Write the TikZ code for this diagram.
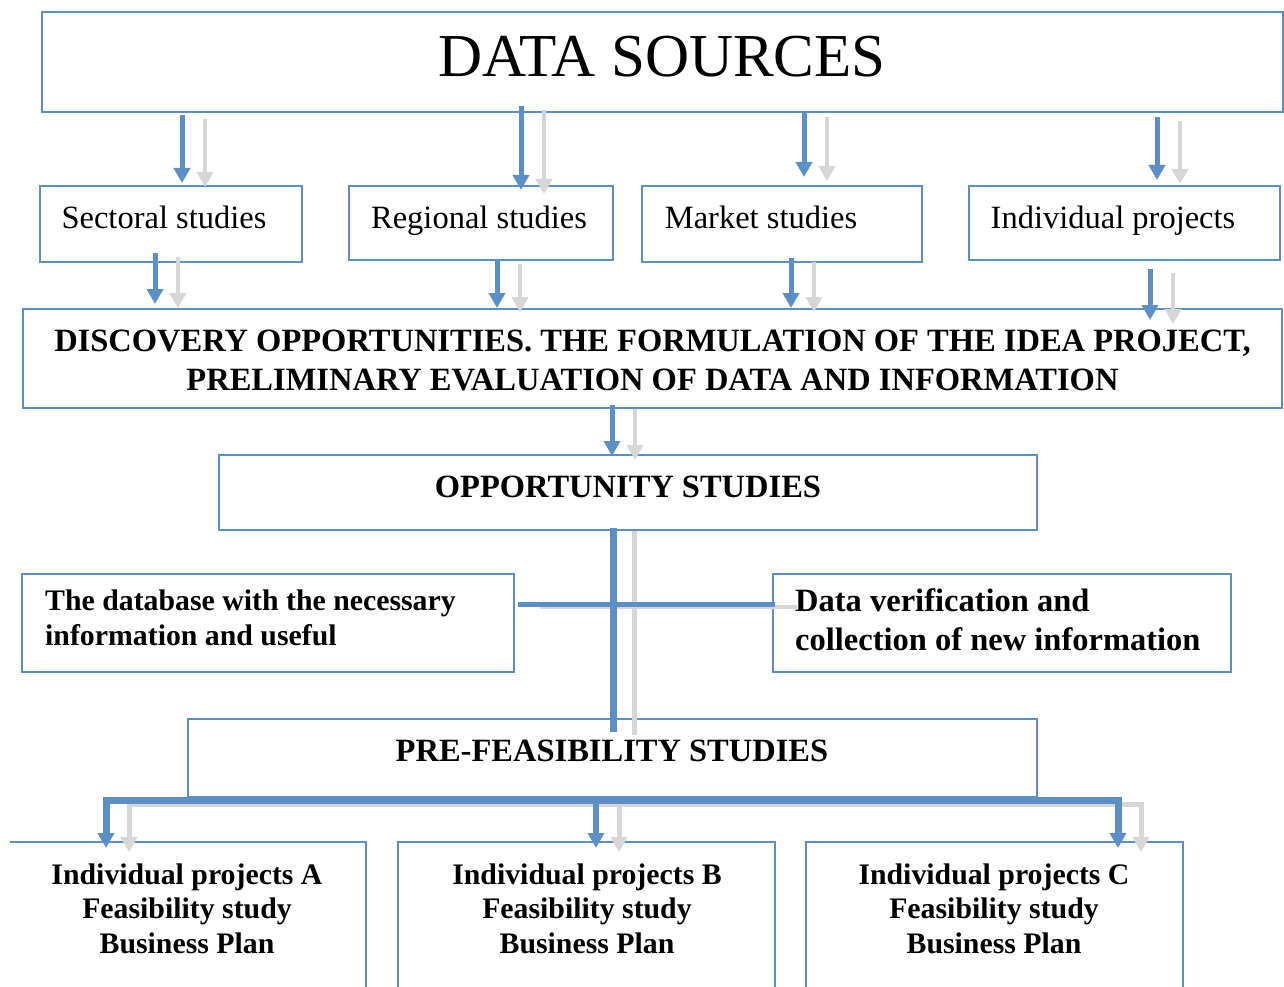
\documentclass[tikz,border=0pt]{standalone}
\usepackage{fontspec}
\setmainfont{Liberation Serif}
\usetikzlibrary{arrows.meta,calc}
\definecolor{flowblue}{RGB}{91,143,199}
\definecolor{flowshade}{RGB}{214,214,214}

% one blue arrow with its grey shadow, from the bottom of #2 to the top of #3 at x=#1
\newcommand\pairdrop[5]{%
  \draw[shadeln=4pt,tip] ($(#1,0 |- #2.south)+(23,#4+4)$) -- ($(#1,0 |- #3.north)+(23,#5+4)$);
  \draw[blueln=5pt,tip] ($(#1,0 |- #2.south)+(0,#4)$) -- ($(#1,0 |- #3.north)+(0,#5)$);
}

\begin{document}
\begin{tikzpicture}[x=1pt,y=-1pt,
  box/.style={draw=flowblue,line width=1.6pt,inner sep=0pt,outer sep=0pt},
  frame/.style={inner sep=0pt,outer sep=0pt},
  edge/.style={draw=flowblue,line width=1.6pt},
  txt/.style={inner sep=0pt,anchor=base,font=\fontsize{32.5}{39}\selectfont},
  btxt/.style={inner sep=0pt,anchor=base,font=\fontsize{32.5}{39}\selectfont\bfseries},
  stxt/.style={inner sep=0pt,anchor=base,font=\fontsize{29.8}{34.5}\selectfont\bfseries},
  tip/.style={-{Triangle[length=15pt,width=16pt]}},
  twotips/.style={{Triangle[length=15pt,width=16pt]}-{Triangle[length=15pt,width=16pt]}},
  blueln/.style={draw=flowblue,line width=#1},
  shadeln/.style={draw=flowshade,line width=#1},
]
\useasboundingbox (0,0) rectangle (1284,987);

% boxes
\node[box,minimum width=1241pt,minimum height=100pt] (ds) at (662.5,62) {};
\node[box,minimum width=262pt,minimum height=76pt] (sec) at (171,224) {};
\node[box,minimum width=264pt,minimum height=74pt] (reg) at (481,223) {};
\node[box,minimum width=280pt,minimum height=76pt] (mkt) at (782,224) {};
\node[box,minimum width=311pt,minimum height=74pt] (ind) at (1124.5,223) {};
\node[box,minimum width=1259pt,minimum height=99pt] (disc) at (652.5,358.5) {};
\node[box,minimum width=818pt,minimum height=75pt] (opp) at (628,492.5) {};
\node[box,minimum width=492pt,minimum height=98pt] (dbx) at (268,623) {};
\node[box,minimum width=458pt,minimum height=98pt] (ver) at (1002,623) {};
\node[box,minimum width=849pt,minimum height=78pt] (pre) at (612.5,758) {};

% project boxes running off the bottom edge
\node[frame,minimum width=356pt,minimum height=145pt] (pa) at (188,914.5) {};
\node[frame,minimum width=377pt,minimum height=145pt] (pb) at (586.5,914.5) {};
\node[frame,minimum width=377pt,minimum height=145pt] (pc) at (994.5,914.5) {};
\draw[edge] (pa.north west) -- (pa.north east) -- (pa.south east);
\draw[edge] (pb.south west) -- (pb.north west) -- (pb.north east) -- (pb.south east);
\draw[edge] (pc.south west) -- (pc.north west) -- (pc.north east) -- (pc.south east);

% texts (multi-line nodes sit on the baseline of their last line)
\node[txt,font=\fontsize{61}{72}\selectfont] (tds) at (662,77) {DATA SOURCES};
\node[txt] (tsec) at (164,228) {Sectoral studies};
\node[txt] (treg) at (479,228) {Regional studies};
\node[txt] (tmkt) at (761,228) {Market studies};
\node[txt] (tind) at (1113,228) {Individual projects};
\node[btxt,align=center] (tdisc) at (652.5,390)
  {DISCOVERY OPPORTUNITIES. THE FORMULATION OF THE IDEA PROJECT,\\
   PRELIMINARY EVALUATION OF DATA AND INFORMATION};
\node[btxt] (topp) at (628,497) {OPPORTUNITY STUDIES};
\node[stxt,align=left,anchor=base west,font=\fontsize{29.8}{35}\selectfont\bfseries] (tdb) at (45,645)
  {The database with the necessary\\information and useful};
\node[btxt,align=left,anchor=base west] (tver) at (795,650)
  {Data verification and\\collection of new information};
\node[btxt] (tpre) at (612,761) {PRE-FEASIBILITY STUDIES};
\node[stxt,align=center] (ta) at (187,953) {Individual projects A\\Feasibility study\\Business Plan};
\node[stxt,align=center] (tb) at (587,953) {Individual projects B\\Feasibility study\\Business Plan};
\node[stxt,align=center] (tc) at (994,953) {Individual projects C\\Feasibility study\\Business Plan};

% arrows from the data sources to the four kinds of study
\pairdrop{182}{ds}{sec}{3}{-3}
\pairdrop{521}{ds}{reg}{-6}{4}
\pairdrop{804}{ds}{mkt}{1}{-9}
\pairdrop{1157}{ds}{ind}{5}{-6}

% arrows into the discovery box
\pairdrop{155}{sec}{disc}{-9}{-5}
\pairdrop{497}{reg}{disc}{0}{-1}
\pairdrop{791}{mkt}{disc}{-4}{-1}
\pairdrop{1150}{ind}{disc}{9}{11}

% discovery to opportunity studies
\pairdrop{612}{disc}{opp}{-3}{1}

% cross between opportunity and pre-feasibility studies: shadows
\draw[shadeln=5pt] ($(613,0 |- opp.south)+(21,1)$) -- ($(613,0 |- pre.north)+(21,16)$);
\draw[shadeln=4pt] ($(dbx.east)+(26,-16)$) -- ($(ver.west)+(24,-16)$);
% bus to the project boxes: shadows
\draw[shadeln=5pt,twotips]
  ($(106,0 |- pa.north)+(23,10)$) -- ($(106,0 |- pre.south)+(23,7)$)
  -- ($(1118,0 |- pre.south)+(23,7)$) -- ($(1118,0 |- pc.north)+(23,10)$);
\draw[shadeln=5pt,tip] ($(596,0 |- pre.south)+(23,7)$) -- ($(596,0 |- pb.north)+(23,10)$);

% cross: blue
\draw[blueln=7pt] ($(613,0 |- opp.south)+(0,-2)$) -- ($(613,0 |- pre.north)+(0,13)$);
\draw[blueln=5pt] ($(dbx.east)+(4,-19)$) -- ($(ver.west)+(2,-19)$);
% bus: blue
\draw[blueln=7pt,twotips]
  ($(106,0 |- pa.north)+(0,6)$) -- ($(106,0 |- pre.south)+(0,3)$)
  -- ($(1118,0 |- pre.south)+(0,3)$) -- ($(1118,0 |- pc.north)+(0,6)$);
\draw[blueln=6pt,tip] ($(596,0 |- pre.south)+(0,3)$) -- ($(596,0 |- pb.north)+(0,6)$);
\end{tikzpicture}
\end{document}
